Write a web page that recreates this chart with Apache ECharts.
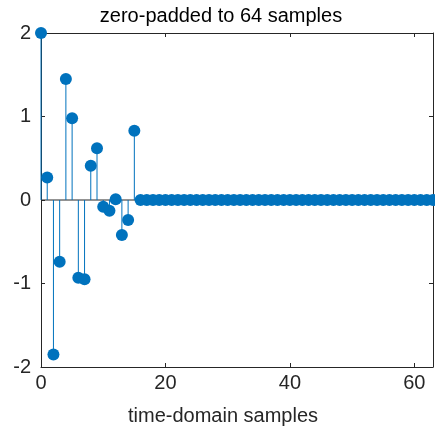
<!DOCTYPE html>
<html>
<head>
<meta charset="utf-8">
<script src="https://cdn.jsdelivr.net/npm/echarts@6/dist/echarts.min.js"></script>
<style>
html,body{margin:0;padding:0;background:#fff;}
#chart{width:435px;height:434px;}
</style>
</head>
<body>
<div id="chart"></div>
<script>
const titleText = 'zero-padded to 64 samples';
const xLabelText = 'time-domain samples';
const xMin = 0, xMax = 63;
const yMin = -2, yMax = 2;
const xTicks = [0, 20, 40, 60];
const yTicks = [-2, -1, 0, 1, 2];
const samples = [
  2.0, 0.27, -1.85, -0.74, 1.45, 0.98, -0.93, -0.95,
  0.41, 0.62, -0.08, -0.13, 0.01, -0.42, -0.24, 0.83,
  0, 0, 0, 0, 0, 0, 0, 0,
  0, 0, 0, 0, 0, 0, 0, 0,
  0, 0, 0, 0, 0, 0, 0, 0,
  0, 0, 0, 0, 0, 0, 0, 0,
  0, 0, 0, 0, 0, 0, 0, 0,
  0, 0, 0, 0, 0, 0, 0, 0
];

const points = samples.map((v, i) => [i, v]);
const FONT = "'Liberation Sans', Arial, sans-serif";
const TEXT = '#262626';
const BLUE = '#0072BD';

const chart = echarts.init(document.getElementById('chart'), null, {renderer: 'canvas'});

const xCommon = {
  type: 'value', min: xMin, max: xMax, interval: 20,
  splitLine: {show: false},
  axisLine: {show: true, lineStyle: {color: TEXT, width: 1}},
};
const yCommon = {
  type: 'value', min: yMin, max: yMax, interval: 1,
  splitLine: {show: false},
  axisLine: {show: true, onZero: false, lineStyle: {color: TEXT, width: 1}},
};

chart.setOption({
  animation: false,
  backgroundColor: '#fff',
  grid: {left: 41, right: 2, top: 33, bottom: 67, show: false},
  xAxis: [
    Object.assign({}, xCommon, {
      position: 'bottom',
      axisLine: {show: true, onZero: false, lineStyle: {color: TEXT, width: 1}},
      axisTick: {show: true, inside: true, length: 4, customValues: xTicks, lineStyle: {color: TEXT}},
      axisLabel: {show: true, customValues: xTicks, color: TEXT, fontFamily: FONT, fontSize: 20, margin: 6}
    }),
    Object.assign({}, xCommon, {
      position: 'top',
      axisLine: {show: true, onZero: false, lineStyle: {color: TEXT, width: 1}},
      axisTick: {show: true, inside: true, length: 4, customValues: xTicks, lineStyle: {color: TEXT}},
      axisLabel: {show: false}
    })
  ],
  yAxis: [
    Object.assign({}, yCommon, {
      position: 'left',
      axisTick: {show: true, inside: true, length: 4, lineStyle: {color: TEXT}},
      axisLabel: {show: true, color: TEXT, fontFamily: FONT, fontSize: 20, margin: 10}
    }),
    Object.assign({}, yCommon, {
      position: 'right',
      axisTick: {show: true, inside: true, length: 4, lineStyle: {color: TEXT}},
      axisLabel: {show: false}
    })
  ],
  graphic: [
    {type: 'text', x: 221, y: 16, z: 10,
     style: {text: titleText, fill: '#000', font: '20px ' + FONT, textAlign: 'center', textVerticalAlign: 'middle'}},
    {type: 'text', x: 223, y: 416, z: 10,
     style: {text: xLabelText, fill: TEXT, font: '20px ' + FONT, textAlign: 'center', textVerticalAlign: 'middle'}}
  ],
  series: [
    {
      type: 'line', xAxisIndex: 0, yAxisIndex: 0,
      data: [[xMin, 0], [xMax, 0]],
      symbol: 'none', silent: true, z: 1,
      lineStyle: {color: TEXT, width: 1}
    },
    {
      type: 'custom', xAxisIndex: 0, yAxisIndex: 0, z: 2,
      data: points,
      renderItem: function (params, api) {
        const x = api.value(0), y = api.value(1);
        const p0 = api.coord([x, 0]);
        const p1 = api.coord([x, y]);
        return {
          type: 'line',
          shape: {x1: p0[0], y1: p0[1], x2: p1[0], y2: p1[1]},
          style: {stroke: BLUE, lineWidth: 1}
        };
      }
    },
    {
      type: 'scatter', xAxisIndex: 0, yAxisIndex: 0, z: 3,
      data: points,
      symbol: 'circle', symbolSize: 12,
      itemStyle: {color: BLUE, opacity: 1}
    }
  ]
});
</script>
</body>
</html>
